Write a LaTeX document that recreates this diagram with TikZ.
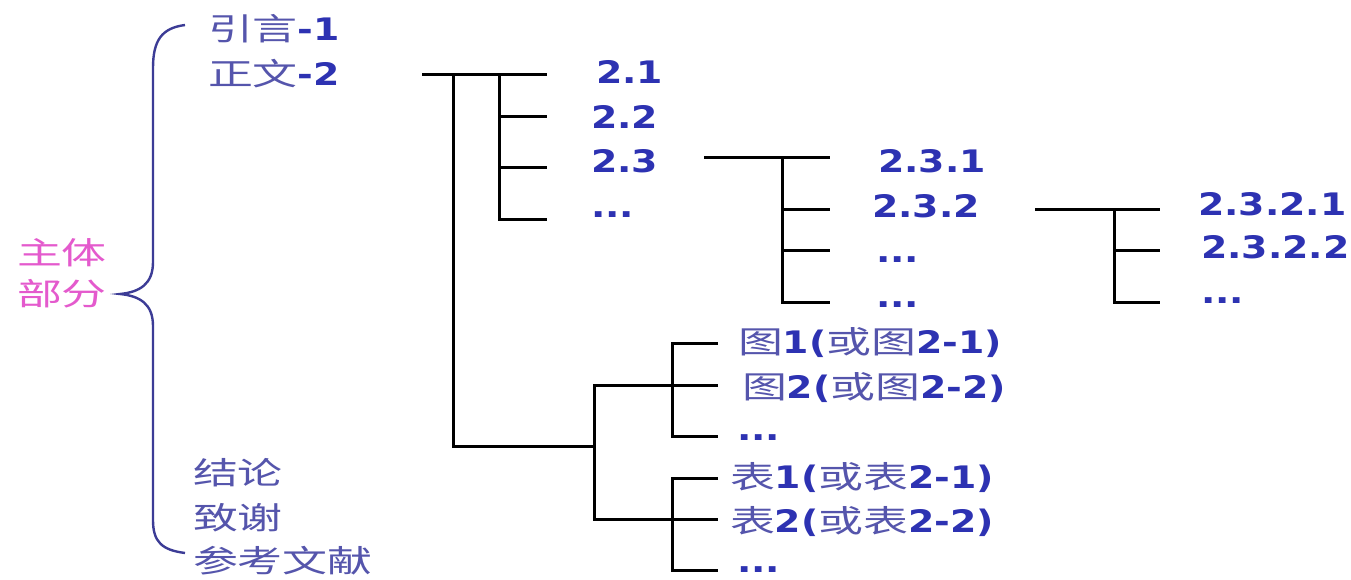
\documentclass[tikz,border=0pt]{standalone}
\usepackage{fontspec}
\newfontfamily\zhfont{Noto Sans CJK SC}[FakeStretch=1.45]
\newfontfamily\numfont{DejaVu Sans Bold}[FakeStretch=1.22]
\definecolor{numblue}{RGB}{45,50,178}
\definecolor{zhblue}{RGB}{85,85,172}
\definecolor{bracecol}{RGB}{60,60,150}
\definecolor{pinkcol}{RGB}{228,90,205}
\newcommand{\zh}[1]{{\zhfont\fontsize{31}{33}\selectfont#1}}
\newcommand{\nm}[1]{{\numfont\fontsize{31}{33}\selectfont\color{numblue}#1}}
\tikzset{
  lbl/.style={anchor=base west, inner sep=0pt, outer sep=0pt, text=zhblue},
  tree/.style={line width=3pt, black},
  bracestyle/.style={line width=2.4pt, bracecol}
}
\begin{document}
\begin{tikzpicture}[x=1pt,y=-1pt]
\useasboundingbox[fill=white] (0,0) rectangle (1351,579);

% left labels
\node[lbl,text=pinkcol] (zhuti) at (17,264) {\zh{主体}};
\node[lbl,text=pinkcol] (bufen) at (17,305) {\zh{部分}};
\node[lbl] (yinyan) at (208,40) {\zh{引言}\nm{-1}};
\node[lbl] (zhengwen) at (208,85) {\zh{正文}\nm{-2}};
\node[lbl] (jielun) at (193,484) {\zh{结论}};
\node[lbl] (zhixie) at (193,529) {\zh{致谢}};
\node[lbl] (cankao) at (193,572) {\zh{参考文献}};

% brace
\coordinate (brtop) at (185,25);
\coordinate (brtip) at (120,294);
\coordinate (brbot) at (185,553);
\draw[bracestyle] (brtop) .. controls (162,28) and (153,40) .. (153,68) -- (153,262)
  .. controls (153,284) and (140,292) .. (brtip)
  .. controls (140,296) and (153,304) .. (153,326) -- (153,520)
  .. controls (153,542) and (162,550) .. (brbot);

% level 2 labels
\node[lbl] (s21) at (596,83) {\nm{2.1}};
\node[lbl] (s22) at (591,128) {\nm{2.2}};
\node[lbl] (s23) at (591,172) {\nm{2.3}};
\node[lbl] (s2d) at (591,217) {\nm{...}};

\node[lbl] (s231) at (878,172) {\nm{2.3.1}};
\node[lbl] (s232) at (872,217) {\nm{2.3.2}};
\node[lbl] (s23d1) at (876,262) {\nm{...}};
\node[lbl] (s23d2) at (876,307) {\nm{...}};

\node[lbl] (s2321) at (1198,215) {\nm{2.3.2.1}};
\node[lbl] (s2322) at (1201,258) {\nm{2.3.2.2}};
\node[lbl] (s232d) at (1201,303) {\nm{...}};

\node[lbl] (fig1) at (738,353) {\zh{图}\nm{1(}\zh{或图}\nm{2-1)}};
\node[lbl] (fig2) at (742,398) {\zh{图}\nm{2(}\zh{或图}\nm{2-2)}};
\node[lbl] (figd) at (737,440) {\nm{...}};
\node[lbl] (tab1) at (730,488) {\zh{表}\nm{1(}\zh{或表}\nm{2-1)}};
\node[lbl] (tab2) at (730,532) {\zh{表}\nm{2(}\zh{或表}\nm{2-2)}};
\node[lbl] (tabd) at (737,572) {\nm{...}};

% tree: level 1
\coordinate (a0) at (422,74);
\coordinate (a1) at (453,74);
\coordinate (a2) at (453,446);
\coordinate (b0) at (499,74);
\coordinate (e21) at (547,74);
\coordinate (e22) at (547,116);
\coordinate (e23) at (547,167);
\coordinate (e2d) at (547,219);
\draw[tree] (a0) -- (e21);
\draw[tree] (b0) -- (b0 |- e2d) -- (e2d);
\draw[tree] (b0 |- e22) -- (e22);
\draw[tree] (b0 |- e23) -- (e23);

% 2.3 branch
\coordinate (c0) at (704,157);
\coordinate (c1) at (782,157);
\coordinate (e231) at (830,157);
\coordinate (e232) at (830,209);
\coordinate (e23d1) at (830,250);
\coordinate (e23d2) at (830,302);
\draw[tree] (c0) -- (e231);
\draw[tree] (c1) -- (c1 |- e23d2) -- (e23d2);
\draw[tree] (c1 |- e232) -- (e232);
\draw[tree] (c1 |- e23d1) -- (e23d1);

% 2.3.2 branch
\coordinate (d0) at (1035,209);
\coordinate (d1) at (1114,209);
\coordinate (e2321) at (1160,209);
\coordinate (e2322) at (1160,250);
\coordinate (e232d) at (1160,302);
\draw[tree] (d0) -- (e2321);
\draw[tree] (d1) -- (d1 |- e232d) -- (e232d);
\draw[tree] (d1 |- e2322) -- (e2322);

% figures and tables branch
\coordinate (f0) at (594,446);
\coordinate (g1) at (672,343);
\coordinate (g2) at (672,478);
\coordinate (efig1) at (718,343);
\coordinate (efig2) at (718,385);
\coordinate (efigd) at (718,436);
\coordinate (etab1) at (718,478);
\coordinate (etab2) at (718,519);
\coordinate (etabd) at (718,570);
\draw[tree] (a1) -- (a2) -- (f0);
\draw[tree] (efig2) -- (f0 |- efig2) -- (f0 |- etab2) -- (etab2);
\draw[tree] (efig1) -- (g1) -- (g1 |- efigd) -- (efigd);
\draw[tree] (etab1) -- (g2) -- (g2 |- etabd) -- (etabd);
\end{tikzpicture}
\end{document}
